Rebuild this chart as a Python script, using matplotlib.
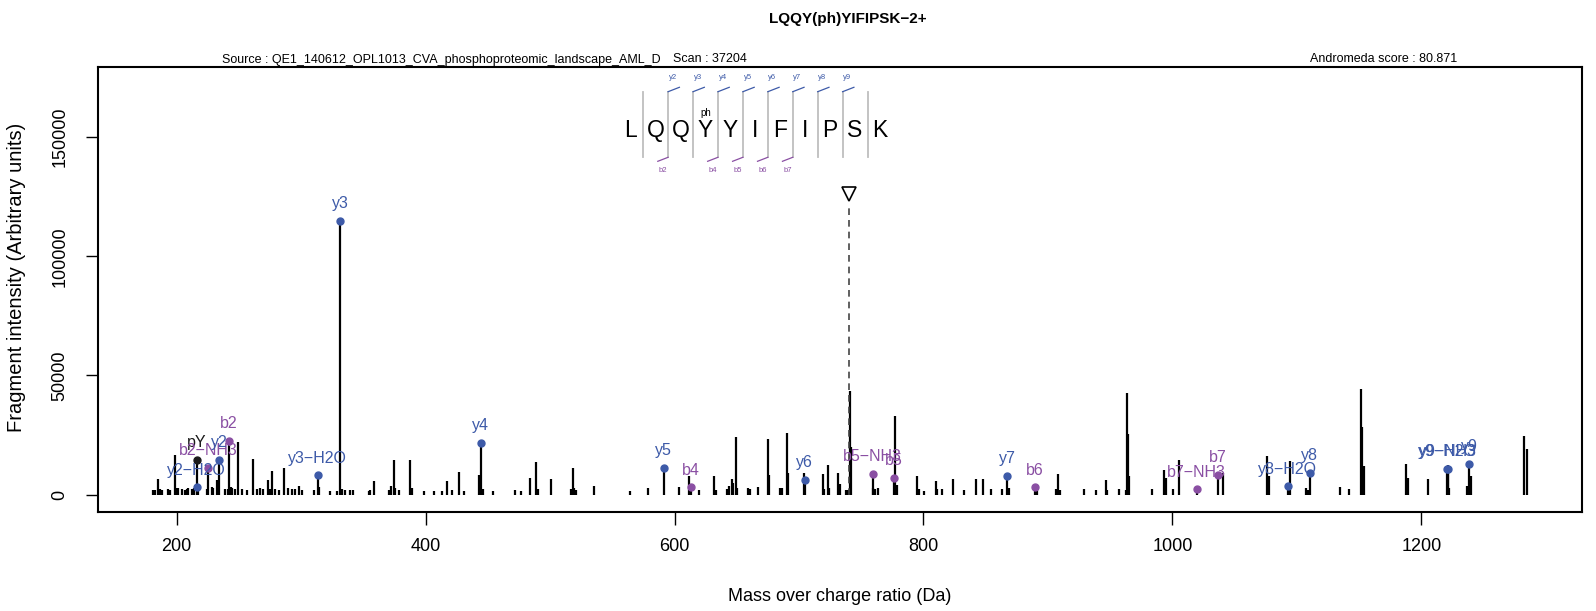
"""Annotated MS/MS spectrum for LQQY(ph)YIFIPSK (2+)."""

import matplotlib

matplotlib.use("Agg")
import matplotlib.pyplot as plt
from matplotlib.lines import Line2D

plt.rcParams["font.family"] = ["Liberation Sans", "DejaVu Sans"]

# --- spectrum data -------------------------------------------------------
peak_mz = [
    181.2, 182.5, 184.7, 186.6, 188.5, 192.7, 194.6, 198.6, 200.0, 201.3,
    204.0, 206.7, 208.0, 209.4, 212.0, 214.2, 217.4, 224.1, 228.1, 229.5,
    232.2, 238.9, 241.1, 243.7, 244.8, 247.0, 249.1, 252.3, 256.3, 260.9,
    264.4, 267.0, 269.7, 273.7, 275.1, 276.4, 279.1, 281.8, 285.8, 289.8,
    292.5, 295.2, 298.4, 300.6, 310.0, 314.0, 323.4, 328.8, 332.8, 335.5,
    339.5, 341.6, 354.2, 355.6, 358.2, 370.3, 372.2, 374.3, 375.7, 378.4,
    387.8, 389.1, 398.5, 406.5, 413.3, 417.3, 421.3, 426.6, 430.7, 442.8,
    445.7, 454.0, 471.5, 476.8, 483.5, 488.6, 490.2, 500.7, 517.0, 518.5,
    519.5, 520.6, 535.6, 563.8, 578.8, 603.9, 611.6, 620.0, 631.3, 632.9,
    642.0, 643.4, 646.0, 647.3, 649.4, 650.5, 659.3, 660.7, 667.3, 675.4,
    676.1, 684.9, 686.3, 690.1, 690.8, 704.0, 719.1, 720.4, 723.2, 724.4,
    731.7, 733.0, 737.9, 739.2, 740.9, 741.7, 759.8, 761.2, 763.2, 777.3,
    778.5, 795.1, 796.7, 800.4, 810.1, 811.0, 814.6, 823.9, 832.5, 842.2,
    848.1, 853.9, 862.8, 868.9, 890.9, 906.2, 908.4, 909.8, 929.0, 938.7,
    946.8, 947.8, 957.2, 962.7, 963.5, 964.6, 965.4, 983.4, 993.3, 994.7,
    1000.8, 1005.7, 1040.5, 1076.4, 1077.5, 1094.6, 1107.5, 1108.8, 1134.7,
    1141.7, 1151.6, 1152.7, 1153.8, 1187.8, 1188.9, 1205.5, 1221.3, 1222.6,
    1236.6, 1239.8, 1282.8, 1284.7,
]
peak_int = [
    1800, 2200, 6600, 2400, 1900, 2600, 2100, 16800, 3000, 2700,
    2300, 2000, 2600, 3000, 2400, 2800, 2200, 2600, 3300, 2900,
    6300, 2400, 2600, 3200, 2800, 2300, 22100, 2600, 1800, 15000,
    2300, 2900, 2400, 6300, 2600, 9800, 2500, 2200, 11400, 2700,
    2500, 2600, 3800, 2000, 1800, 3300, 1600, 1500, 2600, 2000,
    2200, 1800, 1700, 2200, 5600, 2000, 3500, 14600, 3000, 2000,
    14400, 3000, 1500, 1500, 1500, 5600, 2000, 9400, 1500, 8400,
    2500, 1500, 2000, 1500, 7000, 13800, 2500, 6600, 2500, 11200,
    3000, 2000, 3500, 1500, 2900, 3200, 7700, 2000, 8000, 2000,
    2500, 3500, 6600, 5000, 24400, 2800, 3000, 2500, 3200, 23300,
    8400, 2800, 2800, 25800, 9000, 9000, 8800, 2500, 12600, 3000,
    9300, 4500, 2000, 2000, 43600, 20000, 3000, 2500, 3000, 33100,
    4000, 8000, 2500, 1500, 5600, 2500, 2500, 6600, 2000, 6600,
    6600, 2500, 2500, 3000, 2000, 2500, 8500, 2000, 2500, 2000,
    6300, 2000, 2500, 2000, 42600, 25600, 8000, 2500, 10500, 7000,
    2500, 14400, 9100, 16300, 8000, 14000, 3000, 2000, 3300,
    2500, 44300, 28400, 12200, 13000, 7000, 6700, 12400, 3000,
    3500, 8000, 24700, 19300,
]

# annotated fragment ions
ann_label = [
    "pY", "y2\u2212H2O", "b2\u2212NH3", "y2", "b2", "y3\u2212H2O", "y3", "y4",
    "y5", "b4", "y6", "b5\u2212NH3", "b5", "y7", "b6", "b7\u2212NH3", "b7",
    "y8\u2212H2O", "y8", "y9\u2212H2O", "y9\u2212NH3", "y9",
]
ann_mz = [
    216.04, 216.14, 225.12, 234.15, 242.15, 313.19, 331.20, 444.28,
    591.35, 613.24, 704.44, 759.28, 776.30, 867.50, 889.39, 1019.43, 1036.45,
    1092.53, 1110.54, 1220.59, 1221.57, 1238.60,
]
ann_int = [
    14660, 3060, 11200, 14660, 22600, 8100, 114850, 21900,
    11200, 3100, 6100, 8700, 6900, 7800, 3100, 2260, 8200,
    3500, 9100, 10750, 10750, 12900,
]
ann_kind = [
    "other", "y", "b", "y", "b", "y", "y", "y",
    "y", "b", "y", "b", "b", "y", "b", "b", "b",
    "y", "y", "y", "y", "y",
]

precursor_mz = 740.37
precursor_marker_int = 126100

sequence = ["L", "Q", "Q", "Y", "Y", "I", "F", "I", "P", "S", "K"]
phospho_site = 4
seq_y_ions = [2, 3, 4, 5, 6, 7, 8, 9]
seq_b_ions = [2, 4, 5, 6, 7]

title = "LQQY(ph)YIFIPSK\u22122+"
source_text = "Source : QE1_140612_OPL1013_CVA_phosphoproteomic_landscape_AML_D"
scan_text = "Scan : 37204"
score_text = "Andromeda score : 80.871"

x_ticks = [200, 400, 600, 800, 1000, 1200]
y_ticks = [0, 50000, 100000, 150000]

COLORS = {"y": "#3D5AA8", "b": "#8A4FA3", "other": "#1A1A1A"}
W, H = 1596, 611


def _fp(x: float, y: float):
    """Pixel position (from top-left) -> figure fraction."""
    return x / W, 1 - y / H


def main() -> int:
    fig = plt.figure(figsize=(W / 100, H / 100), dpi=100)
    ax = fig.add_axes([97.7 / W, 1 - 511.7 / H, (1582 - 97.7) / W, (511.7 - 67) / H])

    ax.vlines(peak_mz, 0, peak_int, color="black", linewidth=1.6)
    ax.vlines(ann_mz, 0, ann_int, color="black", linewidth=1.6)

    # precursor
    ax.vlines([precursor_mz], 0, precursor_marker_int - 5000, color="#444444",
              linewidth=1.2, linestyles=(0, (4, 3)))
    ax.plot([precursor_mz], [precursor_marker_int], marker="v", markersize=10.5,
            mfc="none", mec="black", mew=1.2, linestyle="none")

    for label, mz, inten, kind in zip(ann_label, ann_mz, ann_int, ann_kind):
        color = COLORS[kind]
        ax.plot([mz], [inten], "o", color=color, markersize=5)
        ax.annotate(label, (mz, inten), xytext=(0, 12.5), textcoords="offset points",
                    ha="center", va="center", fontsize=11.5, color=color)

    ax.set_xlim(136.5, 1329.1)
    ax.set_ylim(-7100, 179300)
    ax.set_xticks(x_ticks)
    ax.set_yticks(y_ticks)
    ax.set_xticklabels([str(v) for v in x_ticks])
    ax.set_yticklabels([str(v) for v in y_ticks], rotation=90, va="center")
    ax.tick_params(axis="both", length=9, width=1.0, labelsize=13)
    ax.tick_params(axis="x", pad=10)
    ax.tick_params(axis="y", pad=12)
    for spine in ax.spines.values():
        spine.set_linewidth(1.5)

    fig.text(*_fp(840, 596.5), "Mass over charge ratio (Da)", ha="center", va="center", fontsize=13)
    fig.text(*_fp(16.3, 277), "Fragment intensity (Arbitrary units)", ha="center", va="center",
             rotation=90, fontsize=14.5)

    fig.text(*_fp(848, 19.5), title, ha="center", va="center", fontsize=11, fontweight="bold")
    fig.text(*_fp(221.7, 62.5), source_text, ha="left", va="baseline", fontsize=9)
    fig.text(*_fp(673, 62.5), scan_text, ha="left", va="baseline", fontsize=9)
    fig.text(*_fp(1310, 62.5), score_text, ha="left", va="baseline", fontsize=9)

    # peptide sequence with fragment coverage
    x0, step = 630.7, 24.93
    for i, aa in enumerate(sequence):
        fig.text(*_fp(x0 + i * step, 130.5), aa, ha="center", va="center", fontsize=16.5)
    fig.text(*_fp(x0 + (phospho_site - 1) * step, 112.7), "ph", ha="center", va="center", fontsize=7)
    for k in range(1, len(sequence)):
        sx = x0 + (k - 0.5) * step
        xs, ys = zip(_fp(sx, 91.7), _fp(sx, 157.3))
        fig.add_artist(Line2D(xs, ys, transform=fig.transFigure, color="#BEBEBE", linewidth=1.3))
    for n in seq_y_ions:
        sx = x0 + (n - 0.5) * step
        xs, ys = zip(_fp(sx, 91.7), _fp(sx + 11.3, 87.3))
        fig.add_artist(Line2D(xs, ys, transform=fig.transFigure, color=COLORS["y"], linewidth=0.9))
        fig.text(*_fp(sx + 4.7, 77.3), f"y{n}", ha="center", va="center", fontsize=5.5, color=COLORS["y"])
    for n in seq_b_ions:
        sx = x0 + (n - 0.5) * step
        xs, ys = zip(_fp(sx, 157.3), _fp(sx - 10.3, 161.3))
        fig.add_artist(Line2D(xs, ys, transform=fig.transFigure, color=COLORS["b"], linewidth=0.9))
        fig.text(*_fp(sx - 5.3, 171), f"b{n}", ha="center", va="center", fontsize=5.5, color=COLORS["b"])

    fig.savefig("out.png", dpi=100)
    plt.close(fig)
    return 0


if __name__ == "__main__":
    raise SystemExit(main())
